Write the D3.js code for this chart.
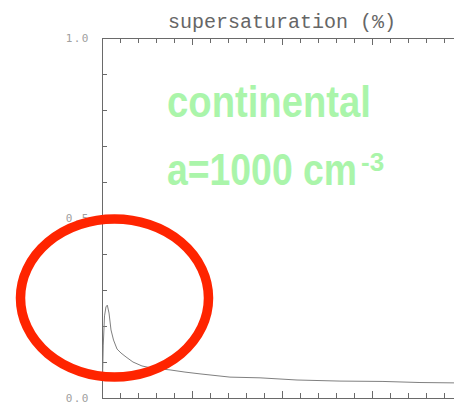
<!DOCTYPE html>
<html lang="en">
<head>
<meta charset="UTF-8">
<title>supersaturation</title>
<style>
  body { margin: 0; background: #fff; }
  svg { display: block; }
</style>
</head>
<body>
<script src="https://d3js.org/d3.v7.min.js"></script>
<script>
  const width = 454, height = 406;

  // time axis (arbitrary units, one major tick per unit) and supersaturation (%)
  const time = [0.006, 0.014, 0.028, 0.044, 0.059, 0.078, 0.10, 0.128, 0.167, 0.211, 0.267,
                0.344, 0.444, 0.556, 0.756, 0.922, 1.089, 1.422, 1.756, 2.167, 2.644, 3.122,
                3.533, 3.911];
  const supersat = [0.056, 0.147, 0.228, 0.253, 0.258, 0.236, 0.189, 0.161, 0.136, 0.125, 0.114,
                    0.100, 0.089, 0.083, 0.078, 0.072, 0.067, 0.058, 0.056, 0.050, 0.047, 0.046,
                    0.043, 0.042];
  const yLabels = [0, 0.5, 1.0];
  const title = 'supersaturation (%)';
  const noteLines = ['continental', 'a=1000 cm'];
  const noteSup = '-3';

  const x = d3.scaleLinear().domain([0, 5]).range([102, 552]);
  const y = d3.scaleLinear().domain([0, 1]).range([398, 38]);

  const svg = d3.select('body').append('svg')
      .attr('width', width).attr('height', height);

  const axisColor = '#6a6a6a';
  const g = svg.append('g').attr('stroke', axisColor).attr('stroke-width', 1)
      .attr('shape-rendering', 'crispEdges');

  // frame lines
  g.append('line').attr('x1', x(0)).attr('x2', width).attr('y1', y(0)).attr('y2', y(0));
  g.append('line').attr('x1', x(0)).attr('x2', width).attr('y1', y(1)).attr('y2', y(1));
  g.append('line').attr('x1', x(0)).attr('x2', x(0)).attr('y1', y(0)).attr('y2', y(1));

  // x ticks, bottom (up) and top (down)
  const xt = d3.range(1, 26).map(i => i * 0.2).filter(v => x(v) < width);
  const isMajor = v => Math.abs(v - Math.round(v)) < 1e-6;
  g.selectAll('.xb').data(xt).enter().append('line')
      .attr('x1', d => x(d)).attr('x2', d => x(d))
      .attr('y1', y(0)).attr('y2', d => y(0) - (isMajor(d) ? 7 : 5));
  g.selectAll('.xt').data(xt).enter().append('line')
      .attr('x1', d => x(d)).attr('x2', d => x(d))
      .attr('y1', y(1)).attr('y2', d => y(1) + (isMajor(d) ? 7 : 5));

  // y ticks (right pointing)
  const yt = d3.range(1, 10).map(i => i / 10);
  g.selectAll('.yl').data(yt).enter().append('line')
      .attr('x1', x(0)).attr('x2', d => x(0) + (Math.abs(d - 0.5) < 1e-6 ? 7 : 5))
      .attr('y1', d => y(d)).attr('y2', d => y(d));

  // y labels
  svg.selectAll('.ylab').data(yLabels).enter().append('text')
      .attr('x', 90).attr('y', d => y(d) + 4)
      .attr('text-anchor', 'end')
      .attr('font-family', 'DejaVu Sans Mono, monospace')
      .attr('font-size', 11).attr('letter-spacing', 1.5)
      .attr('fill', '#a0a0a0')
      .text(d => d.toFixed(1));

  // title
  svg.append('text')
      .attr('x', 282).attr('y', 28)
      .attr('text-anchor', 'middle')
      .attr('font-family', 'Liberation Mono, monospace')
      .attr('font-size', 20)
      .attr('fill', '#666')
      .text(title);

  // curve
  const pts = time.map((t, i) => [t, supersat[i]]);
  svg.append('path')
      .datum(pts)
      .attr('fill', 'none')
      .attr('stroke', '#808080')
      .attr('stroke-width', 1)
      .attr('d', d3.line().x(d => x(d[0])).y(d => y(d[1])));

  // green annotation (slightly condensed bold sans)
  const green = '#aaf5aa';
  const noteFont = 'Liberation Sans, Arial, sans-serif';
  svg.append('text')
      .attr('transform', 'translate(167,117) scale(0.85,1)')
      .attr('font-family', noteFont)
      .attr('font-weight', 'bold').attr('font-size', 45)
      .attr('fill', green)
      .text(noteLines[0]);
  svg.append('text')
      .attr('transform', 'translate(167,185) scale(0.83,1)')
      .attr('font-family', noteFont)
      .attr('font-weight', 'bold').attr('font-size', 45)
      .attr('fill', green)
      .text(noteLines[1]);
  svg.append('text')
      .attr('x', 361).attr('y', 171)
      .attr('font-family', noteFont)
      .attr('font-weight', 'bold').attr('font-size', 26)
      .attr('fill', green)
      .text(noteSup);

  // red highlight ellipse
  svg.append('ellipse')
      .attr('cx', 114.5).attr('cy', 298)
      .attr('rx', 94).attr('ry', 79)
      .attr('fill', 'none')
      .attr('stroke', '#ff2400')
      .attr('stroke-width', 9.5);
</script>
</body>
</html>
